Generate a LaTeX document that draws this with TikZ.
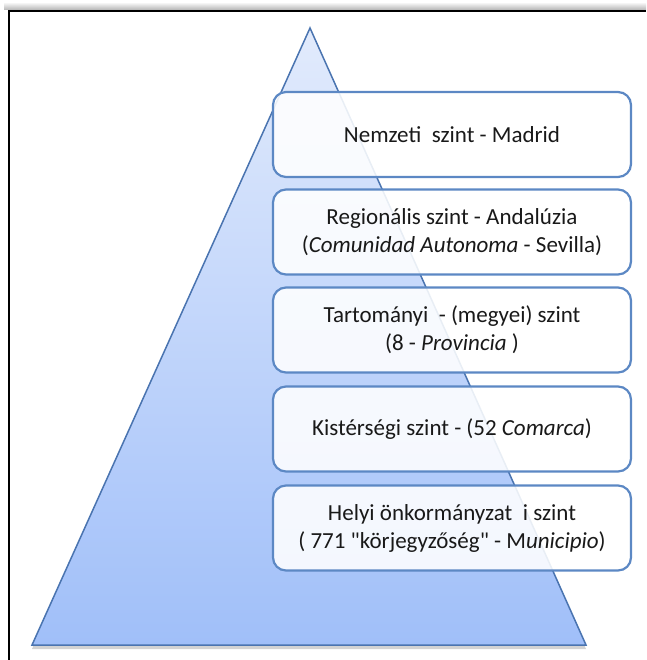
\documentclass[tikz,border=0pt]{standalone}
\usepackage{fontspec}
\setmainfont{Carlito}
\usetikzlibrary{shadows}
\definecolor{edgeblue}{RGB}{74,116,176}
\definecolor{pyrtop}{RGB}{226,235,252}
\definecolor{pyrbot}{RGB}{160,191,249}
\definecolor{boxedge}{RGB}{92,136,196}
\definecolor{textgray}{RGB}{25,25,25}

\begin{document}
\begin{tikzpicture}[x=1pt, y=-1pt,
                tierbox/.style={draw=boxedge, line width=2.2pt, rounded corners=13pt,
                        fill=white, fill opacity=0.88, text opacity=1, text=textgray,
                        minimum width=358pt, minimum height=85pt, align=center,
                        font=\fontsize{23}{28}\selectfont}]
                \useasboundingbox (0,0) rectangle (646,660);
                \shade[top color=white, bottom color=black!30] (4,2) rectangle (646,10);
                \draw[line width=2pt] (9,660) -- (9,11) -- (646,11);
                \shade[top color=pyrtop, bottom color=pyrbot, draw=edgeblue, line width=1.5pt,
                        drop shadow={shadow xshift=0pt, shadow yshift=-4pt, opacity=0.35}]
                        (310,28) -- (586,645) -- (32,645) -- cycle;
                \node[tierbox] (nemzeti) at (452,134.5) {Nemzeti~ szint - Madrid};
                \node[tierbox] (regio) at (452,232) {Regionális szint - Andalúzia\\(\textit{Comunidad Autonoma} - Sevilla)};
                \node[tierbox] (megye) at (452,330) {Tartományi~ - (megyei) szint\\(8 - \textit{Provincia} )};
                \node[tierbox] (kisterseg) at (452,429) {Kistérségi szint - (52 \textit{Comarca})};
                \node[tierbox] (helyi) at (452,528) {Helyi önkormányzat~ i szint\\( 771 \textquotedbl körjegyzőség\textquotedbl{} - M\textit{unicipio})};
            \end{tikzpicture}
\end{document}
